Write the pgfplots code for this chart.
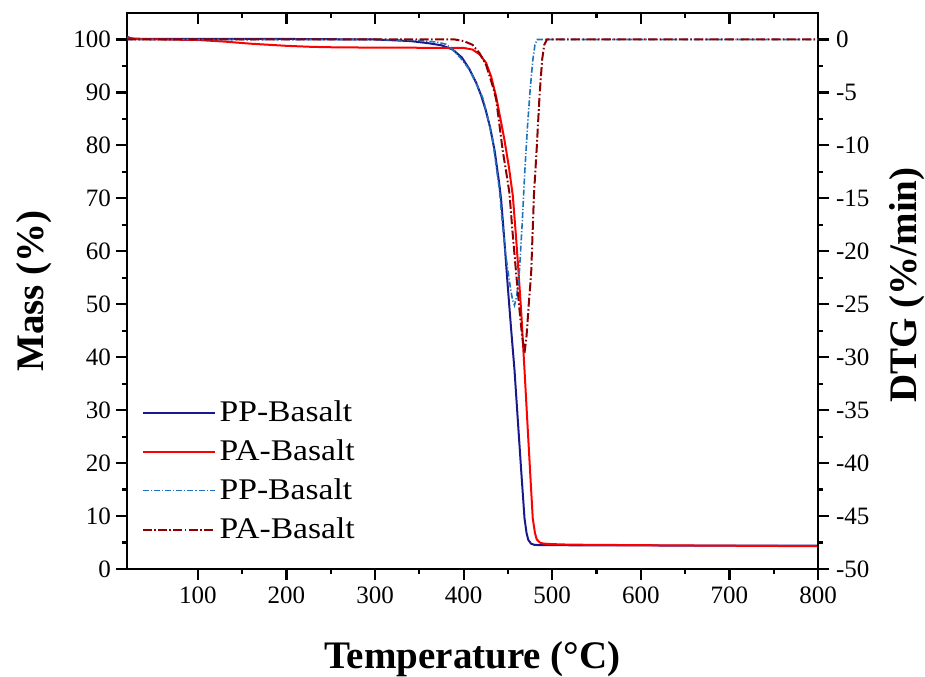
\documentclass[border=0pt]{standalone}
\usepackage{fontspec}
\setmainfont{Liberation Serif}
\newfontfamily\legfont[FakeStretch=1.12]{Liberation Serif}
\usepackage{pgfplots}
\pgfplotsset{compat=1.18}
\definecolor{ppnavy}{RGB}{25,25,140}
\definecolor{pared}{RGB}{255,0,0}
\definecolor{ppblue}{RGB}{30,115,190}
\definecolor{padark}{RGB}{140,0,0}
\tikzset{
  ppdtg/.style={color=ppblue, line width=0.8pt, dash pattern=on 3pt off 1pt on 0.6pt off 1pt},
  padtg/.style={color=padark, line width=1pt, dash pattern=on 4.5pt off 1.2pt on 0.8pt off 1.2pt},
}
\pgfplotsset{
  common/.style={
    scale only axis, width=345.5pt, height=278pt,
    xmin=20, xmax=800,
    at={(0,0)}, anchor=south west,
    major tick length=5.5pt, minor tick length=2.5pt,
    every tick/.style={black, line width=1.1pt},
    axis line style={line width=1.1pt},
    tick label style={font=\fontsize{12.5}{12.5}\selectfont},
    /pgf/number format/assume math mode=true,
    label style={font=\fontsize{19.5}{19.5}\selectfont\bfseries},
  }
}
\begin{document}
\begin{tikzpicture}
\useasboundingbox (-63.5pt,-53.5pt) rectangle (399pt,284.5pt);
% left axis (mass)
\begin{axis}[common,
  ymin=0, ymax=105,
  xtick={100,200,...,800}, minor x tick num=1,
  ytick={0,10,...,100}, minor y tick num=1,
  xtick pos=bottom, ytick pos=left,
  tick align=outside,
  yticklabel style={xshift=1pt},
  xlabel={Temperature (°C)},
  ylabel={Mass (\%)},
  xlabel style={at={(axis description cs:0.5,0)}, anchor=base, yshift=-49.5pt},
  ylabel style={at={(axis description cs:-0.1346,0.5)}, anchor=center},
]
\addplot[color=ppnavy, line width=1pt] coordinates {
(20,100.5)(25,100.2)(40,100.1)(100,100.1)(200,100.1)(300,100)(340,99.7)(360,99.3)
(375,98.9)(387.6,98.1)(398,96.6)(406.5,94.4)(414,91.9)(420,89.3)(425,86.6)(430,83.3)
(435,79)(440,73)(442.3,69.8)(446,62)(449.8,53.4)(453.5,45.5)(457.4,37.6)
(461,28.5)(465,18.5)(468.7,9.6)(471,6.8)(473,5.5)(476,4.8)(480,4.55)(490,4.5)(600,4.45)(700,4.4)(800,4.4)
};
\addplot[color=pared, line width=1pt] coordinates {
(20,100.4)(25,100.1)(60,100)(100,99.9)(130,99.6)(160,99.2)(200,98.8)(230,98.6)(260,98.5)
(330,98.45)(400,98.4)(410,98.1)(418,97.2)(425.3,95.6)(431,93)(436.6,89.3)(441,85.5)
(446,81.1)(451,76)(455.5,70.5)(459,63)(462,56)(465,48.5)(468.7,37.6)(472,27.5)
(475,18.5)(478,9.6)(480.5,6.8)(482.5,5.6)(486,5.0)(490,4.8)(500,4.7)(520,4.6)(600,4.5)(700,4.4)(800,4.3)
};
\end{axis}
% top ticks (inward)
\begin{axis}[common,
  ymin=0, ymax=105,
  axis x line*=top, axis y line=none,
  tick align=inside,
  xtick={100,200,...,800}, minor x tick num=1,
  xticklabels={},
]
\end{axis}
% right axis (DTG)
\begin{axis}[common,
  ymin=-50, ymax=2.5,
  axis y line*=right, axis x line=none,
  tick align=outside,
  ytick={-50,-45,...,0}, minor y tick num=1,
  ylabel={DTG (\%/min)},
  ylabel style={at={(axis description cs:1.1288,0.511)}, anchor=center},
  legend style={draw=none, fill=none, at={(0.012,0.317)}, anchor=north west,
    font=\legfont\fontsize{15}{15}\selectfont, row sep=3.5pt,
    /tikz/every even column/.append style={column sep=5pt}},
  legend cell align=left,
  legend image code/.code={\draw[#1] (0pt,0pt) -- (36pt,0pt);},
]
\addlegendimage{color=ppnavy, line width=1pt}
\addlegendentry{PP-Basalt}
\addlegendimage{color=pared, line width=1pt}
\addlegendentry{PA-Basalt}
\addplot[ppdtg] coordinates {
(20,0)(300,0)(350,-0.1)(370,-0.25)(380,-0.45)(387.6,-0.95)(397,-1.8)(406.5,-2.85)
(414,-4.1)(421.5,-5.5)(427,-7.3)(432.8,-9.5)(436.5,-11.8)(440.4,-14.2)(444,-17.6)
(447,-20)(449.8,-21.7)(452.5,-23.3)(455,-24.5)(457.4,-25.1)(460,-24.2)(463,-21.8)
(466,-17.5)(469,-12.5)(472,-8.3)(475,-4.8)(478,-2.0)(480.5,-0.5)(483,0)(500,0)(800,0)
};
\addlegendentry{PP-Basalt}
\addplot[padtg] coordinates {
(20,0)(300,0)(390,0)(400,-0.15)(410,-0.5)(418,-1.3)(425.3,-2.4)(432.8,-4.4)(436.6,-5.6)
(440,-7.8)(444.1,-10.5)(448,-12.5)(451.7,-14.5)(455,-18)(459.5,-22.3)(463,-25.5)
(466,-28)(468.7,-29.6)(471,-28)(473.5,-25)(476.2,-22.1)(479.4,-14.6)(482.6,-10.1)
(485.6,-5.4)(488.6,-1.9)(491,-0.5)(494,0)(510,0)(800,0)
};
\addlegendentry{PA-Basalt}
\end{axis}
\end{tikzpicture}
\end{document}
